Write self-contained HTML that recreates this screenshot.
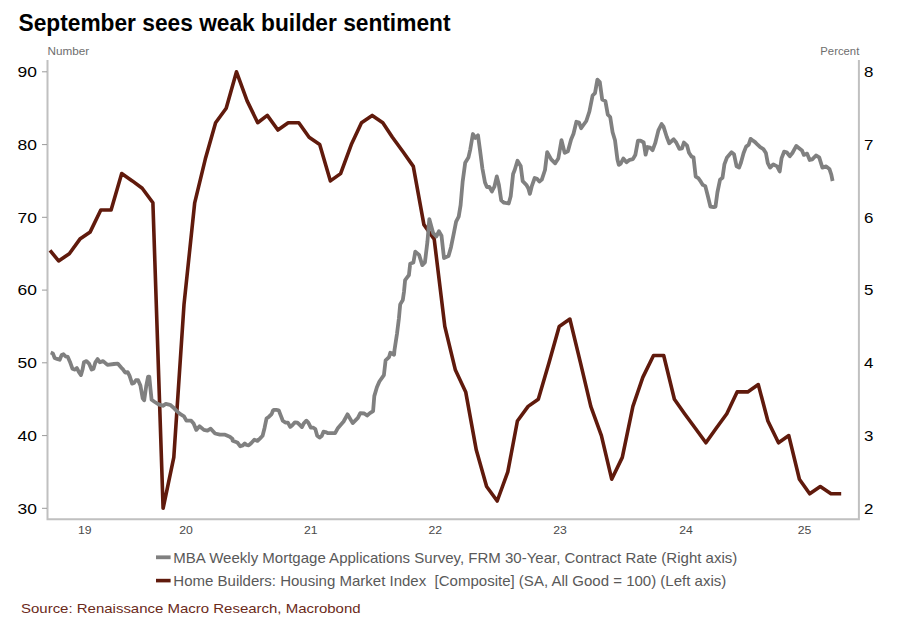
<!DOCTYPE html>
<html><head><meta charset="utf-8"><style>
html,body{margin:0;padding:0;background:#fff;}
svg{display:block;}
text{font-family:"Liberation Sans", sans-serif;}
</style></head><body>
<svg width="912" height="627" viewBox="0 0 912 627">
<defs><clipPath id="pc"><rect x="50" y="40" width="808" height="478"/></clipPath></defs>
<rect width="912" height="627" fill="#fff"/>
<text x="18.5" y="30.8" font-size="23.5" font-weight="bold" fill="#000" textLength="432" lengthAdjust="spacingAndGlyphs">September sees weak builder sentiment</text>
<text x="47.5" y="55" font-size="11" fill="#6e6e6e" textLength="41.7" lengthAdjust="spacingAndGlyphs">Number</text>
<text x="820.3" y="55" font-size="11" fill="#6e6e6e" textLength="39" lengthAdjust="spacingAndGlyphs">Percent</text>
<g stroke="#c0c0c0" stroke-width="2" fill="none">
<path d="M47.5,60 V519.2 H858.9 V60"/>
</g>
<g stroke="#9a9a9a" stroke-width="1">
<line x1="42" y1="71.8" x2="47" y2="71.8"/>
<line x1="42" y1="144.6" x2="47" y2="144.6"/>
<line x1="42" y1="217.3" x2="47" y2="217.3"/>
<line x1="42" y1="290.1" x2="47" y2="290.1"/>
<line x1="42" y1="362.8" x2="47" y2="362.8"/>
<line x1="42" y1="435.6" x2="47" y2="435.6"/>
<line x1="42" y1="508.3" x2="47" y2="508.3"/>
</g>
<g font-size="15" fill="#000" text-anchor="end">
<text x="37" y="77.2" textLength="19.4" lengthAdjust="spacingAndGlyphs">90</text>
<text x="37" y="150.0" textLength="19.4" lengthAdjust="spacingAndGlyphs">80</text>
<text x="37" y="222.7" textLength="19.4" lengthAdjust="spacingAndGlyphs">70</text>
<text x="37" y="295.4" textLength="19.4" lengthAdjust="spacingAndGlyphs">60</text>
<text x="37" y="368.2" textLength="19.4" lengthAdjust="spacingAndGlyphs">50</text>
<text x="37" y="440.9" textLength="19.4" lengthAdjust="spacingAndGlyphs">40</text>
<text x="37" y="513.7" textLength="19.4" lengthAdjust="spacingAndGlyphs">30</text>
</g>
<g font-size="15" fill="#000">
<text x="864.1" y="77.2" textLength="9.4" lengthAdjust="spacingAndGlyphs">8</text>
<text x="864.1" y="150.0" textLength="9.4" lengthAdjust="spacingAndGlyphs">7</text>
<text x="864.1" y="222.7" textLength="9.4" lengthAdjust="spacingAndGlyphs">6</text>
<text x="864.1" y="295.4" textLength="9.4" lengthAdjust="spacingAndGlyphs">5</text>
<text x="864.1" y="368.2" textLength="9.4" lengthAdjust="spacingAndGlyphs">4</text>
<text x="864.1" y="440.9" textLength="9.4" lengthAdjust="spacingAndGlyphs">3</text>
<text x="864.1" y="513.7" textLength="9.4" lengthAdjust="spacingAndGlyphs">2</text>
</g>
<g font-size="11" fill="#4a4a4a" text-anchor="middle">
<text x="84.8" y="534.2" textLength="13.6" lengthAdjust="spacingAndGlyphs">19</text>
<text x="186" y="534.2" textLength="13.6" lengthAdjust="spacingAndGlyphs">20</text>
<text x="310.8" y="534.2" textLength="13.6" lengthAdjust="spacingAndGlyphs">21</text>
<text x="435.2" y="534.2" textLength="13.6" lengthAdjust="spacingAndGlyphs">22</text>
<text x="560" y="534.2" textLength="13.6" lengthAdjust="spacingAndGlyphs">23</text>
<text x="686" y="534.2" textLength="13.6" lengthAdjust="spacingAndGlyphs">24</text>
<text x="804.6" y="534.2" textLength="13.6" lengthAdjust="spacingAndGlyphs">25</text>
</g>
<path d="M50.0,250.4 L58.6,260.9 L69.3,253.7 L79.9,239.1 L90.2,231.9 L100.8,210.0 L111.1,210.0 L121.7,173.6 L132.3,180.9 L142.2,188.2 L152.9,202.8 L163.1,508.3 L173.8,457.4 L184.0,304.6 L194.7,202.8 L205.3,159.1 L215.6,122.7 L226.2,108.2 L236.5,71.8 L247.1,100.9 L257.7,122.7 L267.3,115.4 L277.9,130.0 L288.2,122.7 L298.8,122.7 L309.1,137.3 L319.7,144.6 L330.4,180.9 L340.6,173.6 L351.3,144.6 L361.5,122.7 L372.2,115.4 L382.8,122.7 L392.4,137.3 L403.0,151.8 L413.3,166.4 L423.9,224.6 L434.2,239.1 L444.8,326.4 L455.4,370.1 L465.7,391.9 L476.3,450.1 L486.6,486.5 L497.2,501.0 L507.8,471.9 L517.4,421.0 L528.1,406.4 L538.3,399.2 L549.0,362.8 L559.2,326.4 L569.9,319.1 L580.5,362.8 L590.8,406.4 L601.4,435.6 L611.7,479.2 L622.3,457.4 L632.9,406.4 L642.8,377.4 L653.5,355.5 L663.7,355.5 L674.4,399.2 L684.6,413.7 L695.3,428.3 L705.9,442.8 L716.2,428.3 L726.8,413.7 L737.1,391.9 L747.7,391.9 L758.3,384.6 L767.9,421.0 L778.5,442.8 L788.8,435.6 L799.4,479.2 L809.7,493.8 L820.3,486.5 L831.0,493.8 L841.2,493.8" fill="none" stroke="#601a0c" stroke-width="3.6" stroke-linejoin="round"/>
<path d="M50.7,352.5 L52.9,353.4 L54.6,357.9 L57.1,358.9 L59.7,359.8 L61.6,355.1 L63.5,354.3 L65.4,356.3 L67.7,356.8 L69.9,361.7 L72.4,368.7 L75.0,369.6 L76.9,368.1 L78.8,371.9 L81.0,375.1 L82.6,369.3 L83.9,362.3 L86.5,361.1 L89.0,363.6 L91.6,369.6 L93.5,368.7 L95.4,362.3 L97.6,359.1 L99.9,362.3 L103.1,361.1 L107.5,364.9 L113.9,364.0 L117.7,363.6 L121.6,368.1 L122.6,368.9 L125.1,372.5 L127.7,372.1 L129.6,375.9 L132.1,383.6 L134.0,383.0 L135.9,380.2 L138.1,380.2 L140.4,385.5 L142.7,398.3 L144.2,400.2 L146.2,386.2 L148.1,376.6 L149.3,376.6 L150.4,388.1 L151.6,399.8 L154.8,402.0 L158.6,404.4 L162.9,405.8 L165.8,403.9 L170.1,404.8 L173.0,407.2 L176.8,411.1 L180.0,413.9 L184.0,416.3 L186.4,420.7 L191.2,420.7 L193.6,423.5 L196.3,429.9 L199.5,426.3 L203.9,429.9 L207.5,430.7 L210.7,428.7 L215.1,433.5 L219.9,434.7 L225.1,434.7 L229.8,436.7 L232.6,439.0 L232.6,440.7 L235.2,441.6 L237.7,442.8 L240.3,446.3 L242.8,445.4 L244.8,443.5 L246.7,445.0 L248.6,445.4 L251.1,443.2 L254.3,439.7 L257.5,440.9 L260.1,438.4 L262.6,435.8 L264.5,428.2 L266.5,418.6 L269.0,416.7 L271.6,414.1 L273.1,410.3 L273.8,409.9 L276.4,409.9 L278.7,410.3 L280.8,415.6 L282.8,420.7 L285.3,422.6 L287.9,422.6 L290.2,426.9 L292.3,425.2 L294.9,422.3 L297.4,422.6 L300.0,425.2 L301.9,427.1 L303.8,423.3 L306.4,420.7 L308.3,422.6 L310.8,427.7 L313.4,427.7 L315.3,429.0 L317.2,435.8 L319.5,437.6 L321.7,436.0 L323.6,431.6 L325.5,432.0 L328.1,433.2 L331.2,433.2 L335.1,433.2 L338.0,427.9 L343.6,421.5 L347.5,414.3 L352.7,423.1 L357.9,417.9 L360.3,413.1 L364.3,413.5 L367.1,415.5 L369.9,413.1 L373.1,411.1 L374.3,396.1 L376.9,387.2 L379.4,381.5 L383.9,375.1 L385.6,360.4 L389.0,357.2 L390.3,352.8 L394.1,354.7 L394.5,350.0 L397.0,333.8 L398.9,318.5 L400.2,304.4 L402.8,300.0 L404.0,291.7 L405.1,280.2 L407.9,276.4 L408.9,275.3 L410.2,263.8 L413.4,262.5 L415.3,251.7 L419.1,254.9 L422.3,265.1 L424.9,262.5 L427.4,242.1 L429.3,219.1 L433.2,233.2 L436.4,236.4 L438.9,231.3 L441.5,235.7 L444.0,258.1 L448.5,256.1 L451.0,247.2 L453.6,234.4 L456.1,221.7 L458.7,216.6 L460.6,205.1 L462.7,181.2 L465.2,162.7 L468.4,157.6 L470.3,149.3 L472.9,134.0 L475.4,137.9 L478.0,135.3 L479.9,149.3 L482.4,168.5 L485.0,182.5 L486.9,187.0 L489.4,187.0 L492.0,191.5 L492.4,190.3 L494.4,186.7 L496.8,176.4 L498.8,184.4 L501.2,200.3 L504.0,202.7 L508.7,203.5 L510.7,196.3 L513.1,174.0 L514.7,170.0 L517.5,160.8 L520.7,165.9 L522.7,181.2 L526.3,184.8 L528.3,188.3 L529.9,193.9 L531.9,185.9 L534.7,178.0 L537.0,178.8 L539.4,181.6 L541.8,179.6 L545.0,170.0 L547.2,152.1 L551.2,159.3 L555.2,163.3 L558.3,158.5 L561.5,140.2 L564.7,152.9 L567.9,151.3 L571.1,139.4 L573.5,133.8 L576.4,121.8 L579.1,122.6 L581.1,128.2 L586.3,121.0 L589.4,111.5 L592.6,95.5 L595.0,93.1 L597.4,79.6 L599.8,82.0 L602.2,99.5 L605.4,101.1 L607.8,114.7 L610.2,117.0 L612.6,132.2 L615.0,140.2 L617.4,159.3 L618.8,164.9 L620.7,163.6 L623.3,158.5 L626.5,162.3 L629.7,159.8 L632.9,159.1 L635.4,154.7 L638.0,140.6 L640.5,140.6 L643.7,142.5 L645.6,154.7 L647.5,147.0 L650.1,147.6 L652.6,150.2 L655.2,143.2 L658.4,130.4 L661.6,124.0 L663.5,126.6 L666.7,136.8 L669.2,143.2 L673.7,139.3 L676.2,142.5 L679.4,148.9 L682.0,148.3 L683.9,142.5 L687.1,145.7 L689.0,152.7 L691.6,156.6 L693.5,157.2 L695.7,176.6 L698.3,178.2 L700.8,181.7 L702.8,184.9 L705.3,186.1 L707.9,196.3 L710.4,206.6 L713.6,207.2 L715.5,206.6 L717.4,192.5 L720.0,179.8 L722.5,177.8 L724.4,164.4 L727.0,157.4 L731.5,152.3 L734.0,154.2 L736.6,166.4 L739.1,167.6 L741.0,162.5 L743.6,153.0 L746.1,146.6 L748.7,144.7 L750.6,138.9 L752.5,140.2 L755.1,142.1 L757.6,144.7 L760.2,147.2 L763.4,149.1 L765.9,153.0 L767.8,163.2 L770.1,167.6 L773.3,164.4 L777.1,166.4 L779.7,171.5 L781.6,158.1 L784.1,151.7 L786.7,152.3 L789.9,156.2 L792.4,153.0 L796.3,145.9 L798.8,147.9 L802.0,150.4 L803.9,154.9 L807.1,153.6 L809.7,160.0 L812.2,159.3 L816.0,155.5 L819.2,157.4 L822.4,167.6 L826.2,166.4 L829.4,168.9 L831.3,174.7 L832.6,181.0" fill="none" stroke="#808080" stroke-width="3.8" stroke-linejoin="round" clip-path="url(#pc)"/>
<rect x="156" y="555.4" width="14.6" height="3.8" fill="#808080"/>
<text x="173.3" y="563" font-size="15" fill="#595959" textLength="564" lengthAdjust="spacingAndGlyphs">MBA Weekly Mortgage Applications Survey, FRM 30-Year, Contract Rate (Right axis)</text>
<rect x="156" y="578.8" width="14.6" height="3.6" fill="#601a0c"/>
<text x="173.3" y="586" font-size="15" style="white-space:pre" fill="#595959" textLength="553" lengthAdjust="spacingAndGlyphs">Home Builders: Housing Market Index  [Composite] (SA, All Good = 100) (Left axis)</text>
<text x="21" y="613.4" font-size="13.5" fill="#6b2a1a" textLength="339.6" lengthAdjust="spacingAndGlyphs">Source: Renaissance Macro Research, Macrobond</text>
</svg>
</body></html>
